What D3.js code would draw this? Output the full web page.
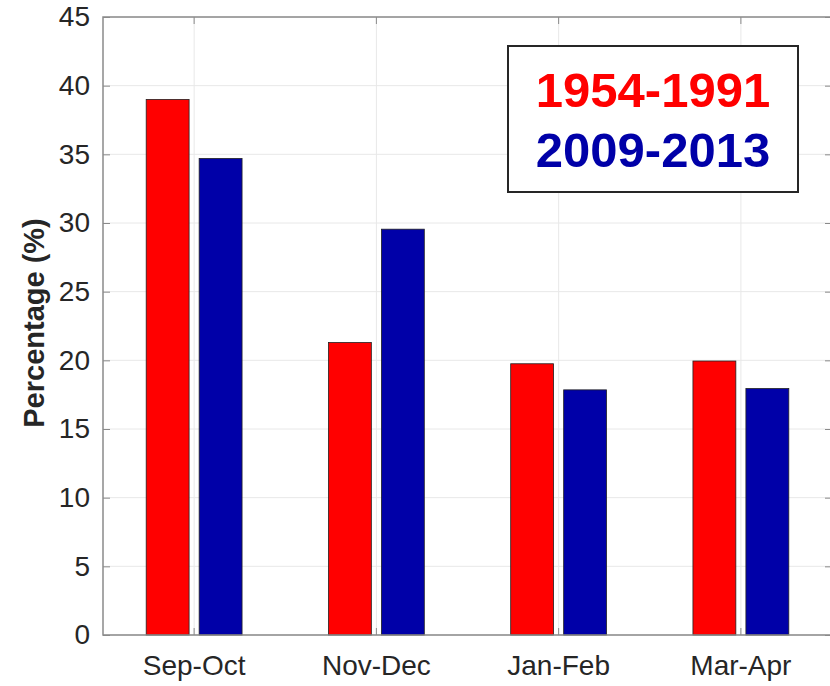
<!DOCTYPE html>
<html>
<head>
<meta charset="utf-8">
<script src="https://cdn.jsdelivr.net/npm/d3@7"></script>
<style>
  body { margin: 0; background: #fff; }
  svg { display: block; font-family: "Liberation Sans", Arial, sans-serif; }
</style>
</head>
<body>
<svg id="chart" width="830" height="686"></svg>
<script>
const categories = ["Sep-Oct", "Nov-Dec", "Jan-Feb", "Mar-Apr"];
const seriesNames = ["1954-1991", "2009-2013"];
const values1954 = [39.0, 21.3, 19.75, 19.95];
const values2009 = [34.7, 29.55, 17.85, 17.95];
const yTicks = [0, 5, 10, 15, 20, 25, 30, 35, 40, 45];
const yLabel = "Percentage (%)";
const colors = ["#ff0000", "#0000a8"];

(function () {
const svg = d3.select("#chart");
const pLeft = 103, pRight = 832, pTop = 17, pBottom = 635;

const x = d3.scaleBand().domain(categories).range([pLeft, pRight]).paddingInner(0).paddingOuter(0);
const y = d3.scaleLinear().domain([0, 45]).range([pBottom, pTop]);
const halfW = x.bandwidth() * 0.263;
const xs = d3.scaleBand().domain(seriesNames).range([-halfW, halfW]).paddingInner(0.19);

// grid
const g = svg.append("g");
g.selectAll("line.hg").data(yTicks).join("line")
  .attr("x1", pLeft).attr("x2", pRight)
  .attr("y1", d => y(d)).attr("y2", d => y(d))
  .attr("stroke", "#e8e8e8").attr("stroke-width", 1);
g.selectAll("line.vg").data(categories).join("line")
  .attr("x1", d => x(d) + x.bandwidth() / 2).attr("x2", d => x(d) + x.bandwidth() / 2)
  .attr("y1", pTop).attr("y2", pBottom)
  .attr("stroke", "#e8e8e8").attr("stroke-width", 1);

// bars
const data = categories.map((c, i) => ({ c, vals: [values1954[i], values2009[i]] }));
const groups = svg.append("g").selectAll("g").data(data).join("g")
  .attr("transform", d => `translate(${x(d.c) + x.bandwidth() / 2},0)`);
groups.selectAll("rect").data(d => d.vals.map((v, k) => ({ v, s: seriesNames[k], k })))
  .join("rect")
  .attr("x", d => xs(d.s))
  .attr("width", xs.bandwidth())
  .attr("y", d => y(d.v))
  .attr("height", d => y(0) - y(d.v))
  .attr("fill", d => colors[d.k])
  .attr("stroke", "#222")
  .attr("stroke-width", 0.8);

// axes
const axisColor = "#8a8a8a";
const yAxis = d3.axisLeft(y).tickValues(yTicks).tickSize(-7).tickPadding(13);
const ya = svg.append("g").attr("transform", `translate(${pLeft},0)`).call(yAxis);
ya.select(".domain").remove();
ya.selectAll(".tick line").attr("stroke", axisColor);
ya.selectAll("text").attr("font-size", 28).attr("fill", "#262626")
  .attr("font-family", "Liberation Sans, Arial, sans-serif");

const yAxisR = d3.axisRight(y).tickValues(yTicks).tickSize(-7).tickFormat("");
const yr = svg.append("g").attr("transform", `translate(${pRight},0)`).call(yAxisR);
yr.select(".domain").remove();
yr.selectAll(".tick line").attr("stroke", axisColor);

const xAxis = d3.axisBottom(x).tickSize(-7).tickPadding(20);
const xa = svg.append("g").attr("transform", `translate(0,${pBottom})`).call(xAxis);
xa.select(".domain").remove();
xa.selectAll(".tick line").attr("stroke", axisColor);
xa.selectAll("text").attr("font-size", 28).attr("fill", "#262626")
  .attr("font-family", "Liberation Sans, Arial, sans-serif");

const xAxisT = d3.axisTop(x).tickSize(-7).tickFormat("");
const xt = svg.append("g").attr("transform", `translate(0,${pTop})`).call(xAxisT);
xt.select(".domain").remove();
xt.selectAll(".tick line").attr("stroke", axisColor);

// box
svg.append("rect").attr("x", pLeft).attr("y", pTop)
  .attr("width", pRight - pLeft).attr("height", pBottom - pTop)
  .attr("fill", "none").attr("stroke", axisColor).attr("stroke-width", 1.5);

// y label
svg.append("text")
  .attr("transform", `translate(44,${(pTop + pBottom) / 2 - 3}) rotate(-90)`)
  .attr("text-anchor", "middle")
  .attr("font-size", 29).attr("font-weight", "bold").attr("fill", "#262626")
  .text(yLabel);

// legend
const lg = svg.append("g");
lg.append("rect").attr("x", 508).attr("y", 46).attr("width", 290).attr("height", 146)
  .attr("fill", "#fff").attr("stroke", "#262626").attr("stroke-width", 2);
lg.selectAll("text").data(seriesNames).join("text")
  .attr("x", 653)
  .attr("y", (d, i) => 107 + i * 60)
  .attr("text-anchor", "middle")
  .attr("font-size", 49).attr("font-weight", "bold")
  .attr("fill", (d, i) => colors[i])
  .text(d => d);
})();
</script>
</body>
</html>
